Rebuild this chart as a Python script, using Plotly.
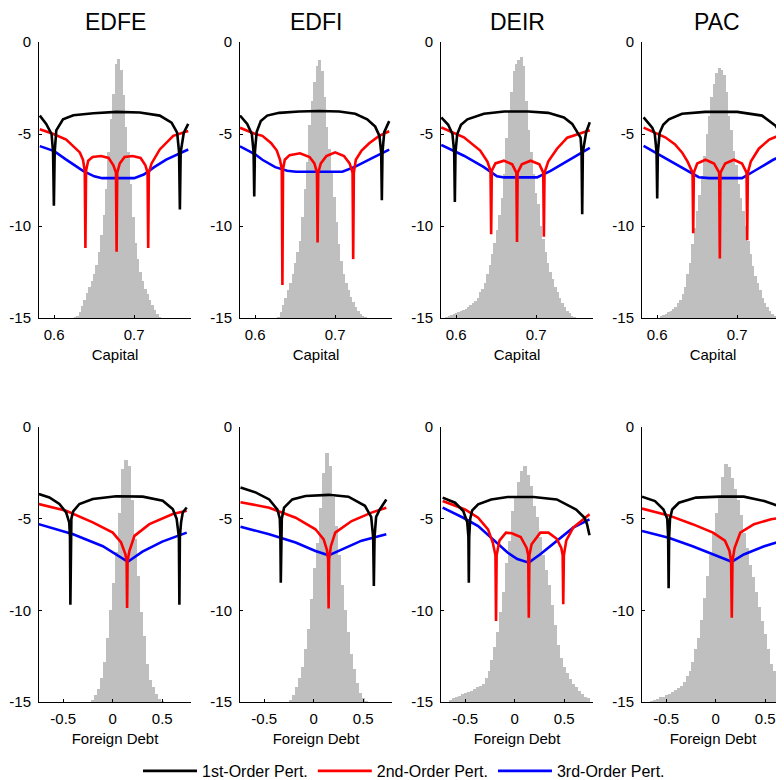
import numpy as np
import plotly.graph_objects as go

# ---------------- data ----------------
MODELS = ["EDFE", "EDFI", "DEIR", "PAC"]
ORDER_NAMES = ["1st-Order Pert.", "2nd-Order Pert.", "3rd-Order Pert."]
ORDER_COLORS = ["#000000", "#FF0000", "#0000FF"]

CAP_TICKS = [0.6, 0.7]
CAP_TICKTEXT = ["0.6", "0.7"]
DEBT_TICKS = [-0.5, 0, 0.5]
DEBT_TICKTEXT = ["-0.5", "0", "0.5"]
Y_TICKS = [-15, -10, -5, 0]
Y_TICKTEXT = ["-15", "-10", "-5", "0"]

# histogram (scaled frequency above -15): first bin centre, bin width, heights
EDFE_K_HIST_START, EDFE_K_HIST_W = 0.6265, 0.003
EDFE_K_HIST = [0.05, 0.1, 0.3, 0.65, 1.0, 1.35, 1.7, 2.0, 2.4, 2.9, 3.6, 4.5, 5.6, 7.0, 9.0, 10.8,
               12.2, 13.8, 14.1, 13.5, 12.1, 10.4, 9.0, 7.3, 5.5, 4.1, 3.2, 2.5, 2.0, 1.6, 1.3, 1.0,
               0.7, 0.45, 0.2, 0.05]
EDFI_K_HIST_START, EDFI_K_HIST_W = 0.6265, 0.003
EDFI_K_HIST = [0.0, 0.05, 0.3, 0.7, 1.1, 1.5, 1.9, 2.4, 3.0, 3.6, 4.2, 5.5, 7.0, 8.5, 10.5, 11.8,
               12.8, 13.7, 14.0, 13.4, 12.0, 10.4, 9.2, 8.0, 6.6, 5.2, 4.0, 3.1, 2.4, 1.9, 1.5, 1.15,
               0.85, 0.6, 0.4, 0.2, 0.1, 0.05]
DEIR_K_HIST_START, DEIR_K_HIST_W = 0.5885, 0.003
DEIR_K_HIST = [0.05, 0.1, 0.15, 0.2, 0.25, 0.3, 0.4, 0.45, 0.5, 0.6, 0.7, 0.8, 0.95, 1.1, 1.4, 1.6,
               1.9, 2.4, 2.9, 3.5, 4.1, 4.8, 5.6, 6.5, 7.8, 9.8, 11.2, 12.3, 13.4, 13.8, 14.0, 14.2,
               13.7, 11.8, 10.2, 9.0, 7.8, 6.8, 6.2, 5.0, 4.3, 3.6, 3.0, 2.5, 2.1, 1.7, 1.4, 1.1,
               0.8, 0.6, 0.4, 0.25, 0.1, 0.05]
PAC_K_HIST_START, PAC_K_HIST_W = 0.6055, 0.003
PAC_K_HIST = [0.1, 0.15, 0.2, 0.3, 0.4, 0.5, 0.6, 0.8, 1.0, 1.3, 1.7, 2.4, 3.0, 4.0, 4.9, 5.8,
              6.7, 7.7, 8.8, 10.0, 11.0, 12.0, 12.7, 13.3, 13.6, 13.5, 13.2, 12.3, 11.0, 10.2, 9.1,
              8.3, 7.3, 6.5, 5.8, 5.0, 4.2, 3.5, 2.8, 2.3, 1.9, 1.5, 1.1, 0.8, 0.6, 0.4, 0.2, 0.1]

EDFE_B_HIST_START, EDFE_B_HIST_W = -0.195, 0.03
EDFE_B_HIST = [0.1, 0.4, 0.7, 1.3, 2.2, 3.5, 5.0, 6.5, 8.2, 10.3, 12.7, 13.2, 12.9, 11.0, 8.9, 6.9,
               4.9, 3.6, 2.1, 1.2, 0.8, 0.45, 0.15, 0.05]
EDFI_B_HIST_START, EDFI_B_HIST_W = -0.225, 0.03
EDFI_B_HIST = [0.1, 0.4, 0.8, 1.3, 1.9, 2.9, 4.0, 5.6, 7.3, 8.7, 10.6, 12.5, 13.6, 12.9, 11.2, 9.6,
               8.0, 6.4, 5.0, 3.8, 2.6, 1.8, 1.05, 0.5, 0.2, 0.05]
DEIR_B_HIST_START, DEIR_B_HIST_W = -0.645, 0.03
DEIR_B_HIST = [0.1, 0.2, 0.3, 0.35, 0.45, 0.5, 0.55, 0.6, 0.7, 0.8, 0.9, 1.0, 1.3, 1.7, 2.3, 3.0,
               3.8, 4.9, 6.0, 7.6, 8.8, 10.4, 11.2, 12.0, 12.6, 12.9, 12.4, 11.8, 10.7, 10.1, 9.0,
               8.0, 7.2, 6.4, 5.3, 4.2, 3.1, 2.4, 1.9, 1.6, 1.25, 1.0, 0.8, 0.6, 0.45, 0.3, 0.2]
PAC_B_HIST_START, PAC_B_HIST_W = -0.645, 0.03
PAC_B_HIST = [0.05, 0.1, 0.15, 0.25, 0.3, 0.4, 0.45, 0.55, 0.65, 0.75, 0.85, 1.1, 1.4, 1.7, 2.2,
              2.9, 3.5, 4.5, 5.7, 6.9, 8.0, 9.2, 10.3, 11.2, 12.3, 13.0, 12.8, 12.2, 11.6, 11.0,
              10.2, 9.2, 8.4, 7.5, 6.8, 6.0, 5.2, 4.4, 3.7, 2.9, 2.1, 1.7, 1.3, 0.9, 0.6, 0.4, 0.25]

# Euler equation errors (log10) -- Capital
EDFE_K_O1_X = [0.582, 0.590, 0.5967, 0.5986, 0.5996, 0.6006, 0.6026, 0.611, 0.624, 0.649, 0.678, 0.707,
               0.732, 0.7467, 0.7537, 0.7561, 0.7571, 0.7581, 0.762, 0.7675]
EDFE_K_O1_Y = [-4.0, -4.45, -5.0, -6.0, -8.9, -6.0, -4.8, -4.2, -3.98, -3.87, -3.8, -3.83,
               -4.0, -4.38, -4.93, -6.0, -9.1, -6.0, -4.93, -4.45]
EDFE_K_O2_X = [0.582, 0.599, 0.615, 0.632, 0.636, 0.6382, 0.639, 0.6398, 0.6425, 0.648, 0.6585, 0.668,
               0.674, 0.6772, 0.678, 0.6788, 0.682, 0.688, 0.698, 0.708, 0.714, 0.7167, 0.7175,
               0.7183, 0.7217, 0.732, 0.7488, 0.7675]
EDFE_K_O2_Y = [-4.74, -5.0, -5.3, -6.0, -6.4, -7.0, -11.2, -7.0, -6.45, -6.25, -6.2, -6.3,
               -6.7, -7.1, -11.4, -7.1, -6.6, -6.25, -6.2, -6.3, -6.7, -7.1, -11.2,
               -7.1, -6.6, -5.84, -5.1, -4.84]
EDFE_K_O3_X = [0.582, 0.600, 0.615, 0.636, 0.650, 0.660, 0.700, 0.712, 0.725, 0.740, 0.7675]
EDFE_K_O3_Y = [-5.66, -5.93, -6.39, -7.0, -7.3, -7.4, -7.4, -7.2, -6.8, -6.39, -5.84]

EDFI_K_O1_X = [0.581, 0.590, 0.5958, 0.598, 0.5988, 0.5996, 0.6018, 0.607, 0.615, 0.630, 0.655, 0.680,
               0.705, 0.725, 0.740, 0.750, 0.7553, 0.7575, 0.7583, 0.7591, 0.7613, 0.7675]
EDFI_K_O1_Y = [-4.0, -4.45, -5.0, -6.0, -8.4, -6.0, -4.9, -4.3, -4.0, -3.85, -3.78, -3.75,
               -3.78, -3.9, -4.2, -4.6, -5.1, -6.0, -8.6, -6.0, -4.9, -4.3]
EDFI_K_O2_X = [0.581, 0.600, 0.609, 0.620, 0.627, 0.631, 0.6332, 0.634, 0.6348, 0.637, 0.643, 0.656,
               0.668, 0.674, 0.6772, 0.678, 0.6788, 0.682, 0.689, 0.700, 0.711, 0.718, 0.7217,
               0.7225, 0.7233, 0.7258, 0.733, 0.7425, 0.755, 0.7675]
EDFI_K_O2_Y = [-4.66, -5.0, -5.1, -5.5, -5.9, -6.4, -6.9, -13.2, -6.9, -6.4, -6.15, -6.05,
               -6.25, -6.6, -7.1, -10.9, -7.1, -6.6, -6.2, -6.0, -6.2, -6.6, -7.1,
               -11.8, -7.1, -6.4, -5.9, -5.5, -5.1, -4.85]
EDFI_K_O3_X = [0.581, 0.600, 0.609, 0.625, 0.640, 0.651, 0.709, 0.7258, 0.7467, 0.7675]
EDFI_K_O3_Y = [-5.67, -6.1, -6.4, -6.8, -7.0, -7.05, -7.05, -6.76, -6.3, -5.85]

DEIR_K_O1_X = [0.5813, 0.590, 0.5953, 0.5975, 0.5983, 0.5991, 0.6013, 0.606, 0.614, 0.6346, 0.660,
               0.690, 0.715, 0.7346, 0.745, 0.7515, 0.7555, 0.7567, 0.7575, 0.7583, 0.7625, 0.767]
DEIR_K_O1_Y = [-4.1, -4.5, -5.0, -6.0, -8.7, -6.0, -5.0, -4.5, -4.2, -3.9, -3.78,
               -3.78, -3.85, -4.1, -4.45, -4.9, -5.2, -6.0, -9.36, -6.0, -4.9, -4.36]
DEIR_K_O2_X = [0.5813, 0.6096, 0.630, 0.639, 0.6429, 0.6437, 0.6445, 0.649, 0.6596, 0.670, 0.6752,
               0.676, 0.6768, 0.682, 0.693, 0.704, 0.7088, 0.7096, 0.7104, 0.715, 0.726, 0.7388, 0.767]
DEIR_K_O2_Y = [-4.64, -5.18, -5.9, -6.5, -7.0, -10.45, -7.0, -6.6, -6.45, -6.65, -7.1,
               -10.87, -7.1, -6.65, -6.45, -6.65, -7.1, -10.58, -7.1, -6.5, -5.8, -5.2, -4.8]
DEIR_K_O3_X = [0.5813, 0.6096, 0.6346, 0.651, 0.660, 0.701, 0.718, 0.739, 0.767]
DEIR_K_O3_Y = [-5.6, -6.18, -6.8, -7.3, -7.36, -7.36, -7.0, -6.45, -5.76]

PAC_K_O1_X = [0.583, 0.5938, 0.597, 0.5992, 0.600, 0.6008, 0.603, 0.6075, 0.6146, 0.631, 0.660, 0.700,
              0.731, 0.748, 0.7545, 0.7572, 0.758, 0.7588, 0.7625, 0.768]
PAC_K_O1_Y = [-4.1, -4.65, -5.0, -6.0, -8.5, -6.0, -4.95, -4.5, -4.2, -3.9, -3.8, -3.8,
              -4.0, -4.55, -5.0, -6.0, -8.5, -6.0, -5.0, -4.5]
PAC_K_O2_X = [0.583, 0.600, 0.610, 0.622, 0.631, 0.638, 0.6442, 0.645, 0.6458, 0.650, 0.6604, 0.671,
              0.6775, 0.6783, 0.6791, 0.685, 0.6958, 0.706, 0.7117, 0.7125, 0.7133, 0.717, 0.727,
              0.740, 0.768]
PAC_K_O2_Y = [-4.65, -5.0, -5.18, -5.55, -6.0, -6.5, -7.1, -10.4, -7.1, -6.6, -6.4, -6.6,
              -7.1, -11.77, -7.1, -6.6, -6.4, -6.6, -7.1, -10.77, -7.1, -6.5, -5.8,
              -5.3, -4.8]
PAC_K_O3_X = [0.583, 0.610, 0.635, 0.652, 0.665, 0.706, 0.723, 0.745, 0.768]
PAC_K_O3_Y = [-5.65, -6.3, -6.93, -7.35, -7.4, -7.4, -6.97, -6.4, -5.93]

# Euler equation errors (log10) -- Foreign Debt
EDFE_B_O1_X = [-0.747, -0.64, -0.539, -0.471, -0.44, -0.432, -0.428, -0.424, -0.418, -0.40, -0.337,
               -0.202, 0.034, 0.303, 0.505, 0.606, 0.645, 0.668, 0.673, 0.678, 0.69, 0.707, 0.747]
EDFE_B_O1_Y = [-3.66, -3.84, -4.2, -4.66, -5.2, -6.0, -9.7, -6.0, -5.0, -4.6, -4.2,
               -3.93, -3.78, -3.8, -4.02, -4.48, -5.0, -6.0, -9.7, -6.0, -5.2, -4.66, -4.39]
EDFE_B_O2_X = [-0.747, -0.471, -0.202, 0.0, 0.084, 0.128, 0.140, 0.145, 0.150, 0.168, 0.219, 0.37,
               0.606, 0.747]
EDFE_B_O2_Y = [-4.2, -4.57, -5.2, -5.76, -6.3, -6.95, -7.3, -9.87, -7.3, -6.77, -5.94, -5.3,
               -4.75, -4.57]
EDFE_B_O3_X = [-0.747, -0.40, -0.10, 0.152, 0.30, 0.50, 0.747]
EDFE_B_O3_Y = [-5.3, -5.85, -6.5, -7.35, -6.8, -6.25, -5.76]

EDFI_B_O1_X = [-0.74, -0.583, -0.45, -0.367, -0.343, -0.337, -0.333, -0.329, -0.323, -0.30, -0.217,
               -0.083, 0.15, 0.35, 0.517, 0.58, 0.600, 0.607, 0.614, 0.63, 0.667, 0.733]
EDFI_B_O1_Y = [-3.3, -3.58, -3.95, -4.5, -5.0, -6.0, -8.5, -6.0, -5.0, -4.4, -3.95,
               -3.76, -3.7, -3.8, -4.3, -4.9, -6.0, -8.67, -6.0, -4.9, -4.5, -3.95]
EDFI_B_O2_X = [-0.74, -0.45, -0.183, 0.017, 0.10, 0.133, 0.145, 0.150, 0.155, 0.173, 0.217, 0.383,
               0.583, 0.733]
EDFI_B_O2_Y = [-4.1, -4.4, -4.95, -5.58, -6.13, -6.7, -7.2, -9.9, -7.2, -6.5, -5.76, -5.13,
               -4.67, -4.4]
EDFI_B_O3_X = [-0.74, -0.45, -0.183, 0.017, 0.15, 0.283, 0.483, 0.733]
EDFI_B_O3_Y = [-5.44, -5.85, -6.3, -6.76, -7.0, -6.67, -6.2, -5.85]

DEIR_B_O1_X = [-0.728, -0.603, -0.52, -0.48, -0.468, -0.464, -0.460, -0.45, -0.43, -0.37, -0.238,
               -0.073, 0.19, 0.424, 0.62, 0.705, 0.73, 0.755]
DEIR_B_O1_Y = [-3.85, -4.13, -4.58, -5.2, -6.0, -8.5, -6.0, -5.0, -4.55, -4.22, -3.95,
               -3.82, -3.82, -3.95, -4.5, -4.95, -5.3, -5.9]
DEIR_B_O2_X = [-0.728, -0.503, -0.37, -0.27, -0.222, -0.195, -0.189, -0.183, -0.155, -0.089, -0.03,
               0.06, 0.12, 0.136, 0.142, 0.148, 0.17, 0.258, 0.34, 0.424, 0.47, 0.484, 0.49,
               0.496, 0.52, 0.59, 0.672, 0.755]
DEIR_B_O2_Y = [-4.04, -4.5, -4.95, -5.58, -6.3, -7.0, -10.58, -7.0, -6.2, -5.76, -5.8,
               -6.0, -6.6, -7.0, -10.4, -7.0, -6.4, -5.76, -5.76, -6.1, -6.6, -7.0, -9.67,
               -7.0, -6.2, -5.49, -5.13, -4.76]
DEIR_B_O3_X = [-0.728, -0.52, -0.37, -0.238, -0.073, 0.026, 0.142, 0.258, 0.424, 0.59, 0.755]
DEIR_B_O3_Y = [-4.4, -4.95, -5.4, -6.04, -6.85, -7.2, -7.4, -6.94, -6.2, -5.49, -5.04]

PAC_B_O1_X = [-0.745, -0.614, -0.528, -0.49, -0.481, -0.476, -0.471, -0.462, -0.44, -0.372, -0.2,
              0.04, 0.283, 0.49, 0.628, 0.731]
PAC_B_O1_Y = [-3.8, -4.04, -4.5, -5.0, -6.0, -8.8, -6.0, -5.0, -4.5, -4.13, -3.85,
              -3.8, -3.8, -4.04, -4.3, -4.67]
PAC_B_O2_X = [-0.745, -0.476, -0.234, -0.028, 0.093, 0.138, 0.155, 0.162, 0.169, 0.19, 0.248, 0.386,
              0.559, 0.731]
PAC_B_O2_Y = [-4.45, -4.82, -5.3, -5.76, -6.2, -6.75, -7.3, -10.4, -7.3, -6.6, -5.76, -5.3,
              -5.03, -4.9]
PAC_B_O3_X = [-0.745, -0.476, -0.234, -0.028, 0.162, 0.283, 0.49, 0.731]
PAC_B_O3_Y = [-5.67, -6.04, -6.5, -6.95, -7.35, -6.95, -6.5, -6.1]

# ---------------- figure ----------------
OFF = 8                      # default page margin of the html body
W, H = 784 - OFF, 780 - OFF  # figure fills the rest of the window
FONT = "Liberation Sans, Arial, sans-serif"
HIST_COLOR = "#BFBFBF"
LEFT_PX = [39, 240, 441, 642]      # window pixel positions of the panels
WIDTH_PX = [152, 152, 152, 142]
ROW_PX = [(42, 318), (427, 702)]
CAP_RANGE0, CAP_PPU = 0.581, 800.0
DEBT_RANGE0, DEBT_PPU = -0.745, 99.0


def px_x(p):
    return (p - OFF) / W


def px_y(p):
    return 1 - (p - OFF) / H


panels = [
    (0, 0, EDFE_K_HIST_START, EDFE_K_HIST_W, EDFE_K_HIST,
     [(EDFE_K_O1_X, EDFE_K_O1_Y), (EDFE_K_O2_X, EDFE_K_O2_Y), (EDFE_K_O3_X, EDFE_K_O3_Y)]),
    (0, 1, EDFI_K_HIST_START, EDFI_K_HIST_W, EDFI_K_HIST,
     [(EDFI_K_O1_X, EDFI_K_O1_Y), (EDFI_K_O2_X, EDFI_K_O2_Y), (EDFI_K_O3_X, EDFI_K_O3_Y)]),
    (0, 2, DEIR_K_HIST_START, DEIR_K_HIST_W, DEIR_K_HIST,
     [(DEIR_K_O1_X, DEIR_K_O1_Y), (DEIR_K_O2_X, DEIR_K_O2_Y), (DEIR_K_O3_X, DEIR_K_O3_Y)]),
    (0, 3, PAC_K_HIST_START, PAC_K_HIST_W, PAC_K_HIST,
     [(PAC_K_O1_X, PAC_K_O1_Y), (PAC_K_O2_X, PAC_K_O2_Y), (PAC_K_O3_X, PAC_K_O3_Y)]),
    (1, 0, EDFE_B_HIST_START, EDFE_B_HIST_W, EDFE_B_HIST,
     [(EDFE_B_O1_X, EDFE_B_O1_Y), (EDFE_B_O2_X, EDFE_B_O2_Y), (EDFE_B_O3_X, EDFE_B_O3_Y)]),
    (1, 1, EDFI_B_HIST_START, EDFI_B_HIST_W, EDFI_B_HIST,
     [(EDFI_B_O1_X, EDFI_B_O1_Y), (EDFI_B_O2_X, EDFI_B_O2_Y), (EDFI_B_O3_X, EDFI_B_O3_Y)]),
    (1, 2, DEIR_B_HIST_START, DEIR_B_HIST_W, DEIR_B_HIST,
     [(DEIR_B_O1_X, DEIR_B_O1_Y), (DEIR_B_O2_X, DEIR_B_O2_Y), (DEIR_B_O3_X, DEIR_B_O3_Y)]),
    (1, 3, PAC_B_HIST_START, PAC_B_HIST_W, PAC_B_HIST,
     [(PAC_B_O1_X, PAC_B_O1_Y), (PAC_B_O2_X, PAC_B_O2_Y), (PAC_B_O3_X, PAC_B_O3_Y)]),
]

fig = go.Figure()
layout = {}
for n, (row, col, hs, hw, hh, curves) in enumerate(panels):
    k = n + 1
    xa = "x" if k == 1 else f"x{k}"
    ya = "y" if k == 1 else f"y{k}"
    centers = hs + hw * np.arange(len(hh))
    # bars slightly wider than the bin so neighbouring bins merge without seams
    fig.add_trace(go.Bar(x=centers, y=hh, base=-15, width=hw * 1.35,
                         marker=dict(color=HIST_COLOR, line=dict(width=0)),
                         showlegend=False, hoverinfo="skip", xaxis=xa, yaxis=ya))
    for o in [2, 1, 0]:
        cx, cy = curves[o]
        fig.add_trace(go.Scatter(x=cx, y=cy, mode="lines", name=ORDER_NAMES[o],
                                 line=dict(color=ORDER_COLORS[o], width=2.6),
                                 showlegend=(k == 1), legendrank=o + 1,
                                 xaxis=xa, yaxis=ya))
    x0p, wp = LEFT_PX[col], WIDTH_PX[col]
    top, bot = ROW_PX[row]
    if row == 0:
        xr = [CAP_RANGE0, CAP_RANGE0 + wp / CAP_PPU]
        tv, tt, lab = CAP_TICKS, CAP_TICKTEXT, "Capital"
    else:
        xr = [DEBT_RANGE0, DEBT_RANGE0 + wp / DEBT_PPU]
        tv, tt, lab = DEBT_TICKS, DEBT_TICKTEXT, "Foreign Debt"
    common = dict(showline=True, linecolor="black", linewidth=1, ticks="inside", ticklen=3,
                  tickcolor="black", showgrid=False, zeroline=False, mirror=False,
                  tickfont=dict(family=FONT, size=15, color="black"), fixedrange=True,
                  automargin=False)
    layout["xaxis" if k == 1 else f"xaxis{k}"] = dict(
        domain=[px_x(x0p), min(1.0, px_x(x0p + wp))], range=xr, tickvals=tv, ticktext=tt,
        anchor=ya, ticklabelstandoff=3,
        title=dict(text=lab, font=dict(family=FONT, size=15, color="black"), standoff=7),
        **common)
    layout["yaxis" if k == 1 else f"yaxis{k}"] = dict(
        domain=[px_y(bot), px_y(top)], range=[-15, 0], tickvals=Y_TICKS, ticktext=Y_TICKTEXT,
        anchor=xa, ticklabelstandoff=4, **common)

title_centers = [115, 316, 517, 717]
annotations = [dict(text=m, x=px_x(cx), y=px_y(22), xref="paper", yref="paper", showarrow=False,
                    xanchor="center", yanchor="middle", font=dict(family=FONT, size=23, color="black"))
               for m, cx in zip(MODELS, title_centers)]

fig.update_layout(
    width=W, height=H, margin=dict(l=0, r=0, t=0, b=0, autoexpand=False),
    paper_bgcolor="white", plot_bgcolor="white", bargap=0, barmode="overlay",
    annotations=annotations,
    legend=dict(orientation="h", x=px_x(404), xanchor="center", y=px_y(771), yanchor="middle",
                font=dict(family=FONT, size=16, color="black"), itemwidth=54,
                bgcolor="rgba(0,0,0,0)", traceorder="normal"),
    **layout,
)
fig.write_html("out.html")
